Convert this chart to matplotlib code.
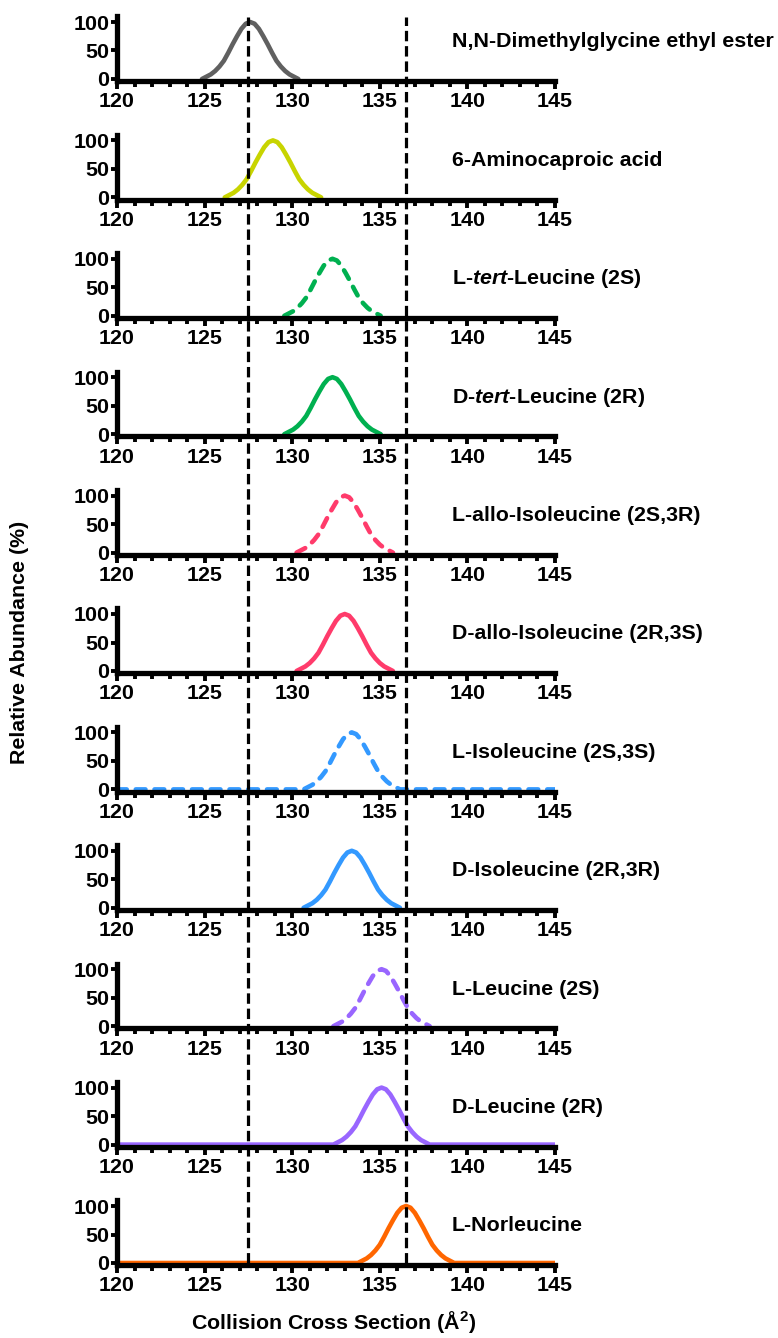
import numpy as np
import matplotlib
matplotlib.use("Agg")
import matplotlib.pyplot as plt
import matplotlib.transforms as mtransforms
from matplotlib.lines import Line2D
from matplotlib.ticker import MultipleLocator

plt.rcParams["font.family"] = ["Liberation Sans", "DejaVu Sans"]
plt.rcParams["font.weight"] = "bold"
plt.rcParams["mathtext.fontset"] = "custom"
plt.rcParams["mathtext.rm"] = "Liberation Sans:bold"
plt.rcParams["mathtext.it"] = "Liberation Sans:italic:bold"
plt.rcParams["mathtext.bf"] = "Liberation Sans:bold"
plt.rcParams["lines.scale_dashes"] = False

# data
compounds = [
    "N,N-Dimethylglycine ethyl ester",
    "6-Aminocaproic acid",
    r"L-$\it{tert}$-Leucine (2S)",
    r"D-$\it{tert}$-Leucine (2R)",
    "L-allo-Isoleucine (2S,3R)",
    "D-allo-Isoleucine (2R,3S)",
    "L-Isoleucine (2S,3S)",
    "D-Isoleucine (2R,3R)",
    "L-Leucine (2S)",
    "D-Leucine (2R)",
    "L-Norleucine",
]
apex_ccs = [127.6, 128.9, 132.3, 132.3, 133.0, 133.0, 133.4, 133.4, 135.1, 135.1, 136.5]
colors = ["#606060", "#c8d400", "#00b050", "#00b050", "#ff3b6b", "#ff3b6b",
          "#3399ff", "#3399ff", "#9966ff", "#9966ff", "#ff6600"]
dashed = [False, False, True, False, True, False, True, False, True, False, False]
full_baseline = [False, False, False, False, False, False, True, False, False, True, True]

# relative abundance around the apex, offsets -2.75..+2.75 in steps of 0.25
profile_offset = np.linspace(-2.75, 2.75, 23)
profile_abundance = [0, 4, 8, 14, 22, 32, 46, 61, 75, 88, 97, 100,
                     97, 88, 75, 61, 46, 32, 22, 14, 8, 4, 0]

reference_ccs = [127.5, 136.5]
x_range = (120, 145)

W, H = 778, 1338
fig = plt.figure(figsize=(W / 100, H / 100), dpi=100)

AX_LEFT, AX_RIGHT = 117, 555
ZERO0, PITCH = 79, 118.4
PX_PER_UNIT = 0.57
YMIN, YMAX = -4, 110
FS = 15.4

axes = []
for i, name in enumerate(compounds):
    zero = ZERO0 + PITCH * i
    top = zero - YMAX * PX_PER_UNIT
    bottom = zero - YMIN * PX_PER_UNIT
    ax = fig.add_axes([AX_LEFT / W, 1 - bottom / H,
                       (AX_RIGHT - AX_LEFT) / W, (bottom - top) / H])
    axes.append(ax)

    x = list(apex_ccs[i] + profile_offset)
    y = list(profile_abundance)
    if full_baseline[i]:
        x = [x_range[0]] + x + [x_range[1]]
        y = [0] + y + [0]

    style = dict(color=colors[i], lw=3.3, solid_capstyle="round",
                 solid_joinstyle="round")
    if dashed[i]:
        style.update(dashes=(7, 6.5), dash_capstyle="round")
    ax.plot(x, y, **style)

    ax.set_xlim(*x_range)
    ax.set_ylim(YMIN, YMAX)
    ax.set_yticks([0, 50, 100])
    ax.xaxis.set_major_locator(MultipleLocator(5))
    ax.xaxis.set_minor_locator(MultipleLocator(1))
    for s in ["top", "right"]:
        ax.spines[s].set_visible(False)
    for s in ["left", "bottom"]:
        ax.spines[s].set_linewidth(3.8)
    ax.tick_params(axis="x", which="major", direction="out", length=5.5,
                   width=2.8, pad=2.5, labelsize=FS)
    ax.tick_params(axis="x", which="minor", direction="out", length=4.2,
                   width=2.8)
    ax.tick_params(axis="y", which="major", direction="out", length=4,
                   width=2.8, pad=1.5, labelsize=FS)
    for lbl in ax.get_xticklabels() + ax.get_yticklabels():
        lbl.set_fontweight("bold")

    ax.text(139.1, 65, name, fontsize=FS, fontweight="bold",
            ha="left", va="center", clip_on=False)

# dashed reference lines spanning all panels
trans = mtransforms.blended_transform_factory(axes[0].transData, fig.transFigure)
y_top = 1 - 17 / H
y_bot = 1 - (ZERO0 + PITCH * (len(compounds) - 1)) / H
for ccs in reference_ccs:
    fig.add_artist(Line2D([ccs, ccs], [y_bot, y_top], transform=trans,
                          color="black", lw=2.3, dashes=(7.5, 3.5),
                          zorder=5))

fig.text(20 / W, 1 - 642 / H, "Relative Abundance (%)", rotation=90,
         ha="center", va="center", fontsize=FS, fontweight="bold")
fig.text(334 / W, 1 - 1322 / H, r"Collision Cross Section (Å$^{\mathbf{2}}$)",
         ha="center", va="center", fontsize=FS, fontweight="bold")

fig.savefig("out.png", dpi=100)
